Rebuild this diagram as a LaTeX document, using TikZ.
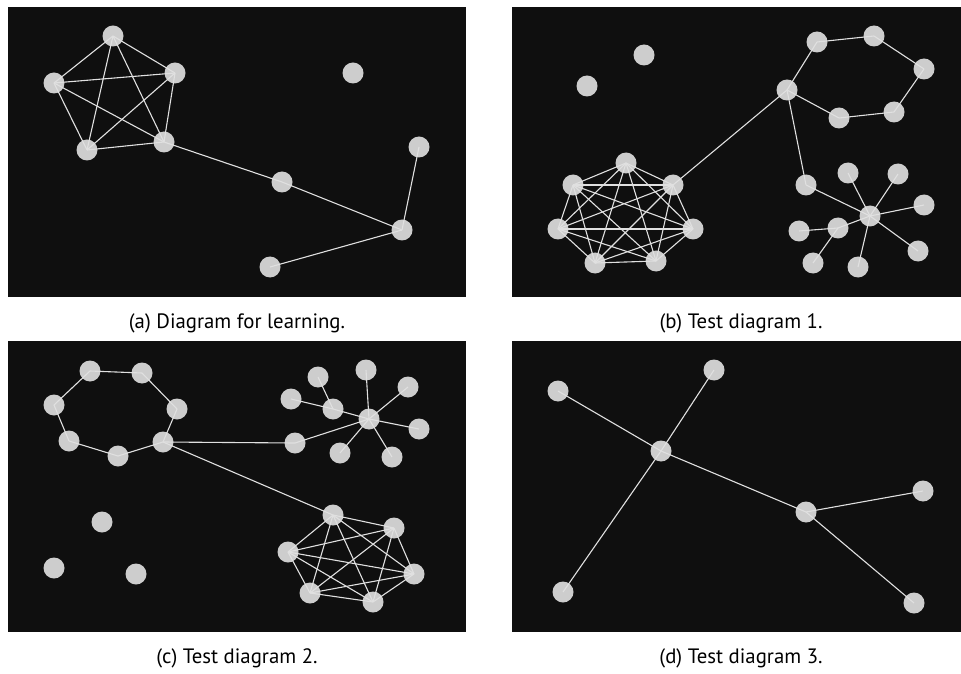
\documentclass[tikz,border=0pt]{standalone}
\usepackage{fontspec}
\setmainfont{PT Sans}
\usetikzlibrary{positioning}

\definecolor{panelbg}{HTML}{0F0F0F}
\definecolor{vertexfill}{HTML}{CDCDCD}
\definecolor{edgecol}{HTML}{E0E0E0}

\tikzset{
  vertex/.style={circle, fill=vertexfill, inner sep=0pt, minimum size=10.5pt},
  link/.style={draw=edgecol, line width=0.55pt},
  caption/.style={font=\fontsize{10.4}{12}\selectfont, text=black, inner sep=0pt}
}

\begin{document}
\begin{tikzpicture}[x=0.5pt, y=-0.5pt]
  \useasboundingbox (0,0) rectangle (961,673);
  % panels
  \fill[panelbg] (8,7) rectangle (466,297);
  \fill[panelbg] (512,7) rectangle (961,297);
  \fill[panelbg] (8,341) rectangle (466,632);
  \fill[panelbg] (512,341) rectangle (961,632);

  % (a) diagram for learning
  \node[vertex] (a1) at (113,36) {};
  \node[vertex] (a2) at (175,73) {};
  \node[vertex] (a3) at (54,83) {};
  \node[vertex] (a4) at (87,150) {};
  \node[vertex] (a5) at (164,142) {};
  \node[vertex] (ax) at (353,73) {};
  \node[vertex] (a6) at (282,182) {};
  \node[vertex] (a7) at (402,230) {};
  \node[vertex] (a8) at (419,147) {};
  \node[vertex] (a9) at (270,267) {};
  \foreach \i [evaluate=\i as \n using int(\i+1)] in {1,...,4}
    \foreach \j in {\n,...,5}
      \draw[link] (a\i.center) -- (a\j.center);
  \foreach \u/\v in {a5/a6, a6/a7, a7/a8, a7/a9}
    \draw[link] (\u.center) -- (\v.center);
  \node[caption] (capa) at (237,323) {(a) Diagram for learning.};

  % (b) test diagram 1
  \node[vertex] (b1) at (626,163) {};
  \node[vertex] (b2) at (673,185) {};
  \node[vertex] (b3) at (693,229) {};
  \node[vertex] (b4) at (656,261) {};
  \node[vertex] (b5) at (595,263) {};
  \node[vertex] (b6) at (558,229) {};
  \node[vertex] (b7) at (573,185) {};
  \node[vertex] (bi1) at (644,55) {};
  \node[vertex] (bi2) at (587,86) {};
  \node[vertex] (bh) at (787,90) {};
  \node[vertex] (bh1) at (817,42) {};
  \node[vertex] (bh2) at (874,36) {};
  \node[vertex] (bh3) at (924,69) {};
  \node[vertex] (bh4) at (894,112) {};
  \node[vertex] (bh5) at (839,118) {};
  \node[vertex] (bc) at (870,216) {};
  \node[vertex] (bs1) at (806,185) {};
  \node[vertex] (bs2) at (848,173) {};
  \node[vertex] (bs3) at (898,174) {};
  \node[vertex] (bs4) at (924,205) {};
  \node[vertex] (bs5) at (918,251) {};
  \node[vertex] (bs6) at (858,267) {};
  \node[vertex] (bm) at (838,228) {};
  \node[vertex] (bm1) at (799,231) {};
  \node[vertex] (bm2) at (813,263) {};
  \foreach \i [evaluate=\i as \n using int(\i+1)] in {1,...,6}
    \foreach \j in {\n,...,7}
      \draw[link] (b\i.center) -- (b\j.center);
  \foreach \u/\v in {bh/b2, bh/bs1, bh/bh1, bh1/bh2, bh2/bh3, bh3/bh4, bh4/bh5, bh5/bh,
                     bc/bs1, bc/bs2, bc/bs3, bc/bs4, bc/bs5, bc/bs6, bc/bm, bm/bm1, bm/bm2}
    \draw[link] (\u.center) -- (\v.center);
  \node[caption] (capb) at (741,323) {(b) Test diagram 1.};

  % (c) test diagram 2
  \node[vertex] (c1) at (90,371) {};
  \node[vertex] (c2) at (142,373) {};
  \node[vertex] (c3) at (177,409) {};
  \node[vertex] (c4) at (163,442) {};
  \node[vertex] (c5) at (118,456) {};
  \node[vertex] (c6) at (69,441) {};
  \node[vertex] (c7) at (54,405) {};
  \node[vertex] (cc) at (369,419) {};
  \node[vertex] (cp) at (295,443) {};
  \node[vertex] (cs1) at (366,370) {};
  \node[vertex] (cs2) at (408,387) {};
  \node[vertex] (cs3) at (419,429) {};
  \node[vertex] (cs4) at (392,457) {};
  \node[vertex] (cs5) at (340,453) {};
  \node[vertex] (cm) at (333,409) {};
  \node[vertex] (cm1) at (318,377) {};
  \node[vertex] (cm2) at (291,399) {};
  \node[vertex] (q1) at (333,515) {};
  \node[vertex] (q2) at (394,528) {};
  \node[vertex] (q3) at (414,574) {};
  \node[vertex] (q4) at (373,602) {};
  \node[vertex] (q5) at (310,593) {};
  \node[vertex] (q6) at (288,552) {};
  \node[vertex] (ci1) at (102,522) {};
  \node[vertex] (ci2) at (54,568) {};
  \node[vertex] (ci3) at (136,574) {};
  \foreach \i [evaluate=\i as \n using int(\i+1)] in {1,...,5}
    \foreach \j in {\n,...,6}
      \draw[link] (q\i.center) -- (q\j.center);
  \foreach \u/\v in {c1/c2, c2/c3, c3/c4, c4/c5, c5/c6, c6/c7, c7/c1, c4/cp, c4/q1,
                     cc/cp, cc/cs1, cc/cs2, cc/cs3, cc/cs4, cc/cs5, cc/cm, cm/cm1, cm/cm2}
    \draw[link] (\u.center) -- (\v.center);
  \node[caption] (capc) at (237,658) {(c) Test diagram 2.};

  % (d) test diagram 3
  \node[vertex] (d1) at (558,391) {};
  \node[vertex] (d2) at (714,370) {};
  \node[vertex] (dh) at (661,451) {};
  \node[vertex] (d3) at (563,592) {};
  \node[vertex] (dh2) at (806,512) {};
  \node[vertex] (d4) at (923,491) {};
  \node[vertex] (d5) at (914,603) {};
  \foreach \u/\v in {dh/d1, dh/d2, dh/d3, dh/dh2, dh2/d4, dh2/d5}
    \draw[link] (\u.center) -- (\v.center);
  \node[caption] (capd) at (741,658) {(d) Test diagram 3.};
\end{tikzpicture}
\end{document}
